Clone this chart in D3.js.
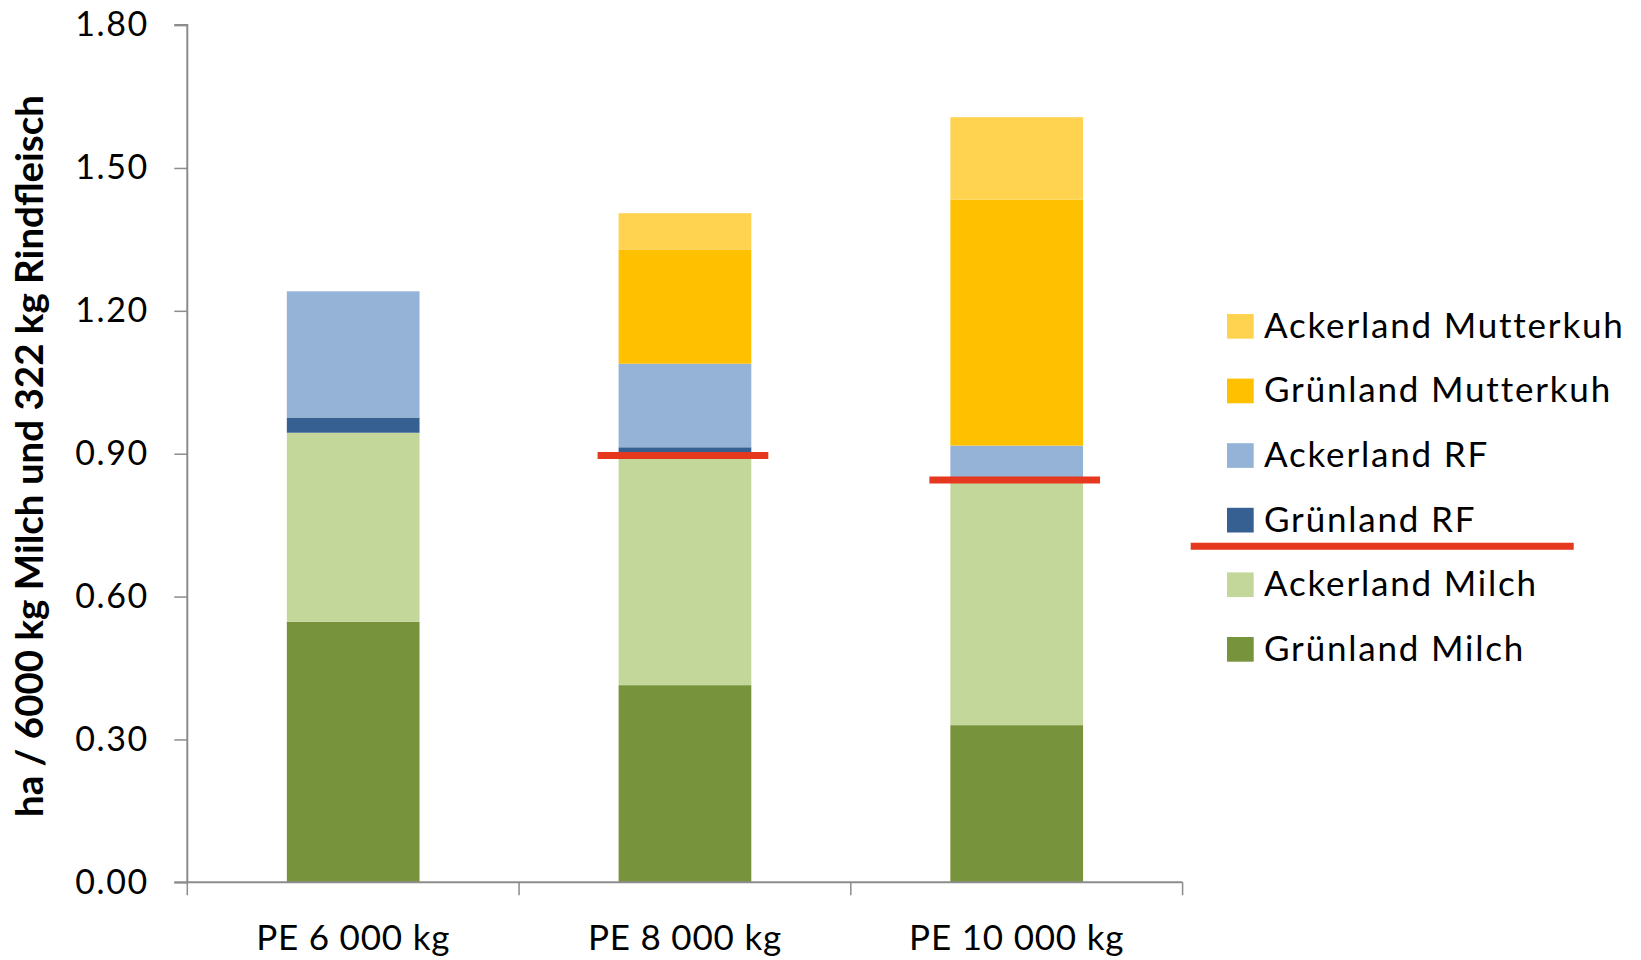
<!DOCTYPE html>
<html>
<head>
<meta charset="utf-8">
<script src="https://cdn.jsdelivr.net/npm/d3@7"></script>
<style>
  html, body { margin: 0; padding: 0; background: #fff; }
  svg { display: block; }
  text { font-family: Lato, "Open Sans", sans-serif; fill: #000; }
</style>
</head>
<body>
<svg id="chart" width="1641" height="960"></svg>
<script>
// Betriebstypen (Produktionsniveau je Kuh)
const categories = ["PE 6 000 kg", "PE 8 000 kg", "PE 10 000 kg"];

// Flächenbedarf in ha, Reihenfolge von unten nach oben im Stapel
const seriesNames = [
  "Grünland Milch",
  "Ackerland Milch",
  "Grünland RF",
  "Ackerland RF",
  "Grünland Mutterkuh",
  "Ackerland Mutterkuh"
];
const gruenlandMilch      = [0.547, 0.414, 0.330];
const ackerlandMilch      = [0.397, 0.486, 0.515];
const gruenlandRF         = [0.032, 0.0135, 0.0];
const ackerlandRF         = [0.265, 0.1755, 0.072];
const gruenlandMutterkuh  = [0.0, 0.239, 0.5166];
const ackerlandMutterkuh  = [0.0, 0.077, 0.173];

// Markierungslinie je Betriebstyp (keine beim ersten)
const markerLine = [null, 0.896, 0.845];

const yTicks = [0, 0.3, 0.6, 0.9, 1.2, 1.5, 1.8];
const yTitle = "ha / 6000 kg Milch und 322 kg Rindfleisch";

const seriesColors = {
  "Grünland Milch": "#77933C",
  "Ackerland Milch": "#C4D79B",
  "Grünland RF": "#366092",
  "Ackerland RF": "#95B3D7",
  "Grünland Mutterkuh": "#FFC000",
  "Ackerland Mutterkuh": "#FFD34F"
};
const lineColor = "#E5381E";

const valuesBySeries = {
  "Grünland Milch": gruenlandMilch,
  "Ackerland Milch": ackerlandMilch,
  "Grünland RF": gruenlandRF,
  "Ackerland RF": ackerlandRF,
  "Grünland Mutterkuh": gruenlandMutterkuh,
  "Ackerland Mutterkuh": ackerlandMutterkuh
};

const rows = categories.map((c, i) => {
  const r = { category: c };
  seriesNames.forEach(s => { r[s] = valuesBySeries[s][i]; });
  return r;
});

const svg = d3.select("#chart");

const plot = { left: 187.3, right: 1182.6, top: 25.1, bottom: 882.3 };

const x = d3.scaleBand()
  .domain(categories)
  .range([plot.left, plot.right])
  .paddingInner(0.6)
  .paddingOuter(0.3);

const y = d3.scaleLinear()
  .domain([0, 1.8])
  .range([plot.bottom, plot.top]);

const stacked = d3.stack().keys(seriesNames)(rows);

// Gestapelte Balken
svg.append("g")
  .selectAll("g")
  .data(stacked)
  .join("g")
    .attr("fill", d => seriesColors[d.key])
  .selectAll("rect")
  .data(d => d.filter(p => p[1] - p[0] > 0))
  .join("rect")
    .attr("x", d => x(d.data.category))
    .attr("width", x.bandwidth())
    .attr("y", d => y(d[1]))
    .attr("height", d => y(d[0]) - y(d[1]));

// Y-Achse
const yAxis = d3.axisLeft(y)
  .tickValues(yTicks)
  .tickFormat(d3.format(".2f"))
  .tickSize(13)
  .tickPadding(25.5);

const gy = svg.append("g")
  .attr("transform", `translate(${plot.left},0)`)
  .call(yAxis);
gy.select(".domain").attr("stroke", "#8C8C8C").attr("stroke-width", 2)
  .attr("d", `M-13,${plot.top}H0V${plot.bottom}`);
gy.selectAll(".tick line").attr("stroke", "#8C8C8C").attr("stroke-width", 1.5);
gy.selectAll(".tick text")
  .style("font-family", "Lato, sans-serif")
  .style("letter-spacing", "1.6px")
  .attr("font-size", 34)
  .attr("fill", "#000");

// X-Achse
const xAxis = d3.axisBottom(x).tickSize(0).tickPadding(0).tickFormat("");
const gx = svg.append("g")
  .attr("transform", `translate(0,${plot.bottom})`)
  .call(xAxis);
gx.select(".domain").attr("stroke", "#8C8C8C").attr("stroke-width", 2)
  .attr("d", `M${plot.left - 13},0H${plot.right}`);
gx.selectAll(".tick").remove();

// Trennstriche zwischen den Kategorien
const boundaries = categories.map(c => x(c) - x.step() * x.paddingInner() / 2)
  .concat([plot.right]);
gx.selectAll("line.sep")
  .data(boundaries)
  .join("line")
    .attr("class", "sep")
    .attr("x1", d => d).attr("x2", d => d)
    .attr("y1", 0).attr("y2", 13)
    .attr("stroke", "#8C8C8C").attr("stroke-width", 1.5);

// Kategorienbeschriftungen
svg.append("g")
  .selectAll("text")
  .data(categories)
  .join("text")
    .attr("x", d => x(d) + x.bandwidth() / 2)
    .attr("y", 950)
    .attr("text-anchor", "middle")
    .attr("font-size", 35)
    .style("letter-spacing", "0.8px")
    .text(d => d);

// Rote Markierungslinien
svg.append("g")
  .selectAll("line")
  .data(categories.map((c, i) => ({ c, v: markerLine[i] })).filter(d => d.v != null))
  .join("line")
    .attr("x1", d => x(d.c) - 21)
    .attr("x2", d => x(d.c) + x.bandwidth() + 17)
    .attr("y1", d => y(d.v))
    .attr("y2", d => y(d.v))
    .attr("stroke", lineColor)
    .attr("stroke-width", 7);

// Achsentitel
svg.append("text")
  .attr("transform", `translate(43,456) rotate(-90)`)
  .attr("text-anchor", "middle")
  .attr("font-size", 38.5)
  .attr("font-weight", 700)
  .text(yTitle);

// Legende
const legendOrder = seriesNames.slice().reverse();
const legend = svg.append("g");
const legendItems = legend.selectAll("g")
  .data(legendOrder)
  .join("g")
    .attr("transform", (d, i) => `translate(1227,${326.3 + i * 64.6})`);
legendItems.append("rect")
  .attr("x", 0).attr("y", -12.3)
  .attr("width", 26.7).attr("height", 24.7)
  .attr("fill", d => seriesColors[d]);
legendItems.append("text")
  .attr("x", 37).attr("y", 11.4)
  .attr("font-size", 35)
  .style("letter-spacing", "1.8px")
  .text(d => d);

// Rote Linie in der Legende zwischen RF und Milch
legend.append("line")
  .attr("x1", 1190.7).attr("x2", 1573.7)
  .attr("y1", 326.3 + 3.5 * 64.6 - 6.1).attr("y2", 326.3 + 3.5 * 64.6 - 6.1)
  .attr("stroke", lineColor)
  .attr("stroke-width", 7);
</script>
</body>
</html>
